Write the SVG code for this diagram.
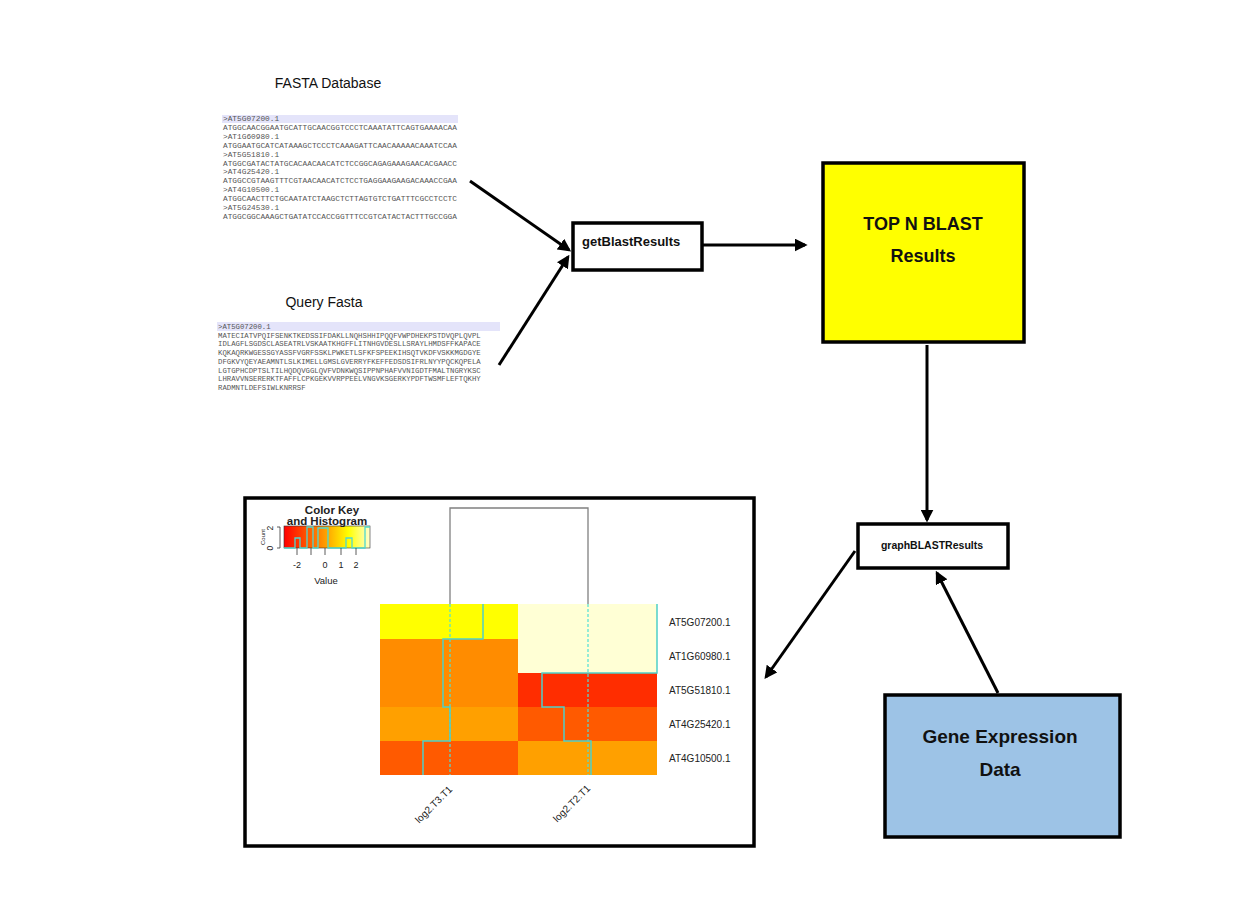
<svg xmlns="http://www.w3.org/2000/svg" width="1240" height="919" viewBox="0 0 1240 919">
<defs>
<style>
.box{stroke:#000;stroke-width:3.5}
.lbl{font-family:"Liberation Sans",Arial,sans-serif;font-weight:bold;fill:#111}
.ttl{font-family:"Liberation Sans",Arial,sans-serif;font-size:14px;fill:#111}
.seq{font-family:"Liberation Mono","Courier New",monospace;font-size:7.8px;fill:#555}
.pseq{font-family:"Liberation Mono","Courier New",monospace;font-size:7.3px;fill:#555}
.conn{stroke:#000;stroke-width:3;fill:none;marker-end:url(#ah)}
.ax{font-family:"Liberation Sans",Arial,sans-serif;fill:#222}
.trace{stroke:#4fd0c8;stroke-width:1.5;fill:none}
.dash{stroke:#4fe0d8;stroke-width:1.2;stroke-dasharray:3,2;fill:none}
</style>
<marker id="ah" viewBox="0 0 10 10" refX="8" refY="5" markerWidth="13" markerHeight="13" markerUnits="userSpaceOnUse" orient="auto">
<path d="M0,0 L10,5 L0,10 z" fill="#000"/>
</marker>
<linearGradient id="ck" x1="0" y1="0" x2="1" y2="0">
<stop offset="0" stop-color="#ff0000"/>
<stop offset="0.4" stop-color="#ff8000"/>
<stop offset="0.75" stop-color="#ffff00"/>
<stop offset="1" stop-color="#ffffd0"/>
</linearGradient>
</defs>
<rect width="1240" height="919" fill="#fff"/>

<g id="fasta-db">
<text class="ttl" x="328" y="88" text-anchor="middle">FASTA Database</text>
<rect x="222" y="115" width="236" height="8" fill="#e4e4fa"/>
<text class="seq" x="223" y="121" fill="#777">&gt;AT5G07200.1</text>
<text class="seq" x="223" y="130">ATGGCAACGGAATGCATTGCAACGGTCCCTCAAATATTCAGTGAAAACAA</text>
<text class="seq" x="223" y="139">&gt;AT1G60980.1</text>
<text class="seq" x="223" y="147.5">ATGGAATGCATCATAAAGCTCCCTCAAAGATTCAACAAAAACAAATCCAA</text>
<text class="seq" x="223" y="156.5">&gt;AT5G51810.1</text>
<text class="seq" x="223" y="165.5">ATGGCGATACTATGCACAACAACATCTCCGGCAGAGAAAGAACACGAACC</text>
<text class="seq" x="223" y="174">&gt;AT4G25420.1</text>
<text class="seq" x="223" y="183">ATGGCCGTAAGTTTCGTAACAACATCTCCTGAGGAAGAAGACAAACCGAA</text>
<text class="seq" x="223" y="192">&gt;AT4G10500.1</text>
<text class="seq" x="223" y="201">ATGGCAACTTCTGCAATATCTAAGCTCTTAGTGTCTGATTTCGCCTCCTC</text>
<text class="seq" x="223" y="210">&gt;AT5G24530.1</text>
<text class="seq" x="223" y="219">ATGGCGGCAAAGCTGATATCCACCGGTTTCCGTCATACTACTTTGCCGGA</text>
</g>

<g id="query-fasta">
<text class="ttl" x="324" y="307" text-anchor="middle">Query Fasta</text>
<rect x="217" y="322" width="283" height="9" fill="#e4e4fa"/>
<text class="pseq" x="218" y="329" fill="#777">&gt;AT5G07200.1</text>
<text class="pseq" x="218" y="337.5">MATECIATVPQIFSENKTKEDSSIFDAKLLNQHSHHIPQQFVWPDHEKPSTDVQPLQVPL</text>
<text class="pseq" x="218" y="346">IDLAGFLSGDSCLASEATRLVSKAATKHGFFLITNHGVDESLLSRAYLHMDSFFKAPACE</text>
<text class="pseq" x="218" y="355">KQKAQRKWGESSGYASSFVGRFSSKLPWKETLSFKFSPEEKIHSQTVKDFVSKKMGDGYE</text>
<text class="pseq" x="218" y="363.5">DFGKVYQEYAEAMNTLSLKIMELLGMSLGVERRYFKEFFEDSDSIFRLNYYPQCKQPELA</text>
<text class="pseq" x="218" y="372.5">LGTGPHCDPTSLTILHQDQVGGLQVFVDNKWQSIPPNPHAFVVNIGDTFMALTNGRYKSC</text>
<text class="pseq" x="218" y="381">LHRAVVNSERERKTFAFFLCPKGEKVVRPPEELVNGVKSGERKYPDFTWSMFLEFTQKHY</text>
<text class="pseq" x="218" y="390">RADMNTLDEFSIWLKNRRSF</text>
</g>

<g id="getBlastResults">
<rect class="box" x="573" y="223" width="129" height="47" fill="#fff"/>
<text class="lbl" x="582" y="246" font-size="13">getBlastResults</text>
</g>

<g id="topN">
<rect class="box" x="823" y="163" width="201" height="179" fill="#ffff00"/>
<text class="lbl" x="923" y="230" font-size="18" text-anchor="middle">TOP N BLAST</text>
<text class="lbl" x="923" y="262" font-size="18" text-anchor="middle">Results</text>
</g>

<g id="graphBLASTResults">
<rect class="box" x="858" y="524" width="150" height="44" fill="#fff"/>
<text class="lbl" x="932" y="549" font-size="10.5" text-anchor="middle">graphBLASTResults</text>
</g>

<g id="geneExpression">
<rect class="box" x="885" y="695" width="235" height="142" fill="#9dc3e6"/>
<text class="lbl" x="1000" y="743" font-size="19" text-anchor="middle">Gene Expression</text>
<text class="lbl" x="1000" y="776" font-size="19" text-anchor="middle">Data</text>
</g>

<g id="heatmap">
<rect class="box" x="245" y="498" width="509" height="348" fill="#fff"/>
<!-- color key -->
<rect x="284" y="526" width="86" height="22" fill="url(#ck)" stroke="#333" stroke-width="0.6"/>
<polyline points="284,548 295,548 295,538 300,538 300,548 307,548 307,527 313,527 313,548 318,548 318,528 328,528 328,548 346,548 346,538 352,538 352,548 365,548 365,527 370,527" fill="none" stroke="#4fd8d0" stroke-width="1.3"/>
<text class="ax" x="332" y="514" font-size="11.5" font-weight="bold" text-anchor="middle">Color Key</text>
<text class="ax" x="327" y="525" font-size="11.5" font-weight="bold" text-anchor="middle">and Histogram</text>
<line x1="280" y1="527" x2="280" y2="548" stroke="#333" stroke-width="0.8"/>
<line x1="277" y1="548" x2="280" y2="548" stroke="#333" stroke-width="0.8"/>
<line x1="277" y1="527" x2="280" y2="527" stroke="#333" stroke-width="0.8"/>
<text class="ax" x="273" y="548" font-size="8.5" transform="rotate(-90 273 548)" text-anchor="middle">0</text>
<text class="ax" x="273" y="528" font-size="8.5" transform="rotate(-90 273 528)" text-anchor="middle">2</text>
<text class="ax" x="265" y="537" font-size="6" transform="rotate(-90 265 537)" text-anchor="middle">Count</text>
<g stroke="#333" stroke-width="0.8">
<line x1="297" y1="548" x2="297" y2="555"/>
<line x1="311" y1="548" x2="311" y2="555"/>
<line x1="325" y1="548" x2="325" y2="555"/>
<line x1="341" y1="548" x2="341" y2="555"/>
<line x1="356" y1="548" x2="356" y2="555"/>
</g>
<text class="ax" x="297" y="568" font-size="9" text-anchor="middle">-2</text>
<text class="ax" x="325" y="568" font-size="9" text-anchor="middle">0</text>
<text class="ax" x="341" y="568" font-size="9" text-anchor="middle">1</text>
<text class="ax" x="356" y="568" font-size="9" text-anchor="middle">2</text>
<text class="ax" x="326" y="584" font-size="9.5" text-anchor="middle">Value</text>
<!-- dendrogram -->
<polyline points="450,604 450,508 588,508 588,604" fill="none" stroke="#808080" stroke-width="1.3"/>
<!-- cells -->
<rect x="380" y="604" width="138" height="35" fill="#ffff00"/>
<rect x="518" y="604" width="139" height="35" fill="#ffffd5"/>
<rect x="380" y="639" width="138" height="34" fill="#ff8c00"/>
<rect x="518" y="639" width="139" height="34" fill="#ffffd5"/>
<rect x="380" y="673" width="138" height="34" fill="#ff8c00"/>
<rect x="518" y="673" width="139" height="34" fill="#ff2d00"/>
<rect x="380" y="707" width="138" height="34" fill="#ffa000"/>
<rect x="518" y="707" width="139" height="34" fill="#ff5a00"/>
<rect x="380" y="741" width="138" height="34" fill="#ff5a00"/>
<rect x="518" y="741" width="139" height="34" fill="#ffa000"/>
<!-- traces -->
<line class="dash" x1="450" y1="604" x2="450" y2="775"/>
<line class="dash" x1="588" y1="604" x2="588" y2="775"/>
<polyline class="trace" points="483,604 483,639 443,639 443,707 450,707 450,741 423,741 423,775"/>
<polyline class="trace" points="657,604 657,673 542,673 542,707 564,707 564,741 591,741 591,775"/>
<!-- labels -->
<text class="ax" x="669" y="626" font-size="10">AT5G07200.1</text>
<text class="ax" x="669" y="660" font-size="10">AT1G60980.1</text>
<text class="ax" x="669" y="694" font-size="10">AT5G51810.1</text>
<text class="ax" x="669" y="728" font-size="10">AT4G25420.1</text>
<text class="ax" x="669" y="762" font-size="10">AT4G10500.1</text>
<text class="ax" x="453" y="790" font-size="10" text-anchor="end" transform="rotate(-45 453 790)">log2.T3.T1</text>
<text class="ax" x="591" y="789" font-size="10" text-anchor="end" transform="rotate(-45 591 789)">log2.T2.T1</text>
</g>

<g id="connectors">
<line class="conn" x1="470" y1="181" x2="569" y2="250"/>
<line class="conn" x1="499" y1="365" x2="568" y2="257"/>
<line class="conn" x1="702" y1="245" x2="805" y2="245"/>
<line class="conn" x1="927" y1="345" x2="927" y2="520"/>
<line class="conn" x1="855" y1="551" x2="766" y2="677"/>
<line class="conn" x1="998" y1="693" x2="937" y2="573"/>
</g>
</svg>
